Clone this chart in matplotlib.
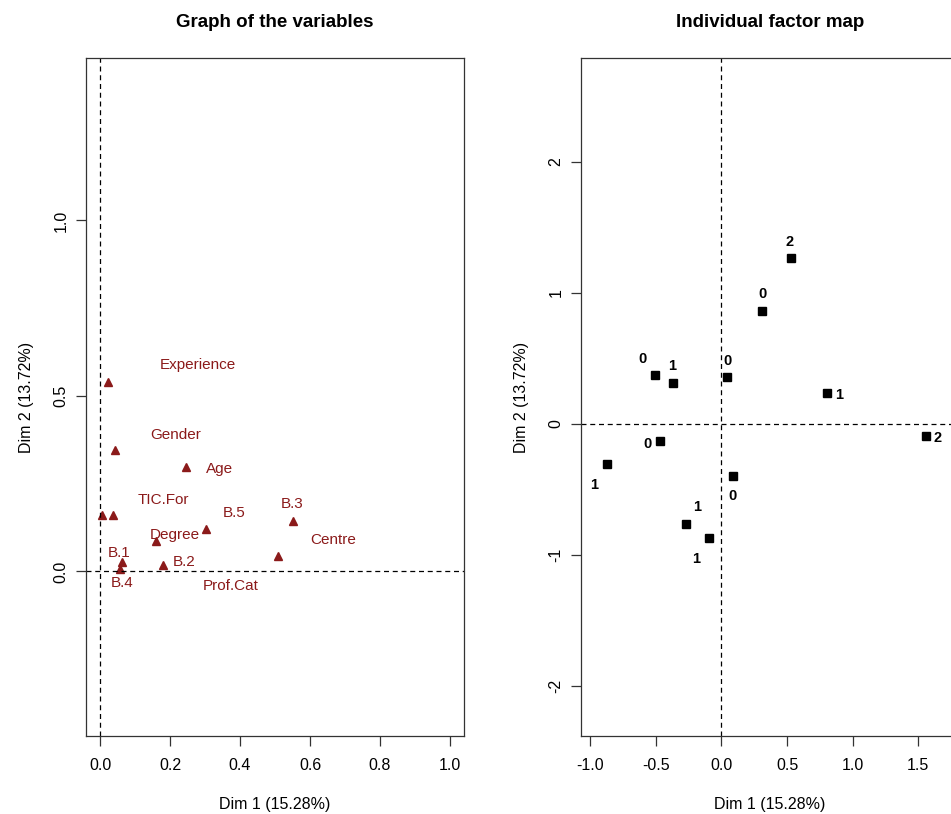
import matplotlib
matplotlib.use("Agg")
import matplotlib.pyplot as plt

plt.rcParams['font.family'] = ['Liberation Sans', 'DejaVu Sans']

# ---------------- Data: variables graph ----------------
var_names = ["Experience", "Gender", "Age", "TIC.For", "B.5", "B.3",
             "Centre", "Degree", "B.1", "B.2", "B.4", "Prof.Cat"]
var_x = [0.022, 0.043, 0.246, 0.038, 0.302, 0.551, 0.508, 0.159, 0.064, 0.180, 0.058, 0.005]
var_y = [0.539, 0.345, 0.297, 0.160, 0.121, 0.143, 0.044, 0.087, 0.027, 0.017, 0.007, 0.160]
var_lab_x = [0.281, 0.217, 0.342, 0.180, 0.384, 0.550, 0.665, 0.214, 0.055, 0.241, 0.062, 0.374]
var_lab_y = [0.587, 0.389, 0.291, 0.204, 0.166, 0.193, 0.090, 0.105, 0.052, 0.027, -0.033, -0.041]

# ---------------- Data: individuals ----------------
ind_labels = ["2", "0", "0", "1", "0", "1", "2", "0", "1", "0", "1", "1"]
ind_x = [0.528, 0.3125, -0.503, -0.368, 0.043, 0.805, 1.557, -0.467, -0.869, 0.086, -0.272, -0.091]
ind_y = [1.268, 0.861, 0.373, 0.312, 0.353, 0.231, -0.091, -0.135, -0.310, -0.399, -0.765, -0.871]
ind_lab_x = [0.521, 0.3125, -0.605, -0.376, 0.043, 0.894, 1.644, -0.566, -0.973, 0.086, -0.185, -0.193]
ind_lab_y = [1.390, 0.991, 0.493, 0.442, 0.478, 0.221, -0.109, -0.152, -0.470, -0.554, -0.635, -1.029]

W, H = 951, 814
fig = plt.figure(figsize=(W / 100, H / 100), dpi=100)

def px_box(x0, x1, ytop, ybot):
    return [x0 / W, 1 - ybot / H, (x1 - x0) / W, (ybot - ytop) / H]

ax1 = fig.add_axes(px_box(86, 464, 58, 736))
ax2 = fig.add_axes(px_box(581, 959, 58, 736))

darkred = "#8B1A1A"
fs_tick = 11.5

def style(ax):
    for s in ax.spines.values():
        s.set_linewidth(0.9)
        s.set_color("#333333")
    ax.tick_params(direction='out', length=7, width=0.9, color="#333333",
                   labelsize=fs_tick)
    ax.tick_params(axis='x', pad=9)
    ax.tick_params(axis='y', pad=5.5)
    for lab in ax.get_yticklabels():
        lab.set_rotation(90)
        lab.set_va('center')
    ax.axhline(0, color='black', lw=0.9, ls=(0, (4, 3)))
    ax.axvline(0, color='black', lw=0.9, ls=(0, (4, 3)))
    ax.set_xlabel("Dim 1 (15.28%)", fontsize=fs_tick, labelpad=17)
    ax.set_ylabel("Dim 2 (13.72%)", fontsize=fs_tick, labelpad=14)

# Left panel
ax1.plot(var_x, var_y, linestyle='none', marker='^', color=darkred, ms=6)
for s, lx, ly in zip(var_names, var_lab_x, var_lab_y):
    ax1.text(lx, ly, s, color=darkred, fontsize=11, ha='center', va='center')
ax1.set_xlim(-0.04, 1.04)
ax1.set_ylim(-0.469, 1.463)
ax1.set_xticks([0.0, 0.2, 0.4, 0.6, 0.8, 1.0])
ax1.set_xticklabels(["0.0", "0.2", "0.4", "0.6", "0.8", "1.0"])
ax1.set_yticks([0.0, 0.5, 1.0])
ax1.set_yticklabels(["0.0", "0.5", "1.0"])
style(ax1)
ax1.set_title("Graph of the variables", fontsize=13.5, fontweight='bold', pad=22)

# Right panel
ax2.plot(ind_x, ind_y, linestyle='none', marker='s', color='black', ms=5.5)
for s, lx, ly in zip(ind_labels, ind_lab_x, ind_lab_y):
    ax2.text(lx, ly, s, color='black', fontsize=10.5, fontweight='bold',
             ha='center', va='center')
ax2.set_xlim(-1.07, 1.81)
ax2.set_ylim(-2.384, 2.792)
ax2.set_xticks([-1.0, -0.5, 0.0, 0.5, 1.0, 1.5])
ax2.set_xticklabels(["-1.0", "-0.5", "0.0", "0.5", "1.0", "1.5"])
ax2.set_yticks([-2, -1, 0, 1, 2])
ax2.set_yticklabels(["-2", "-1", "0", "1", "2"])
style(ax2)
ax2.set_title("Individual factor map", fontsize=13.5, fontweight='bold', pad=22)

fig.savefig("out.png", dpi=100)
